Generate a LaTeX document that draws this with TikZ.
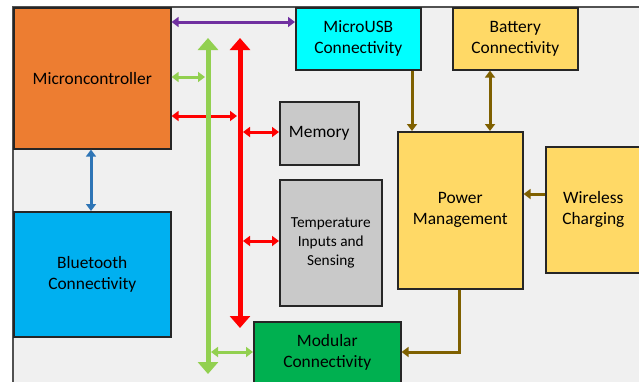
\documentclass[tikz,border=0pt]{standalone}
\usepackage{fontspec}
\setmainfont{Carlito}
\usetikzlibrary{arrows.meta}

\definecolor{mcuorange}{HTML}{ED7D31}
\definecolor{btblue}{HTML}{00B0F0}
\definecolor{usbcyan}{HTML}{00FFFF}
\definecolor{pwryellow}{HTML}{FFD966}
\definecolor{memgray}{HTML}{C9C9C9}
\definecolor{modgreen}{HTML}{00B050}
\definecolor{buslime}{HTML}{92D050}
\definecolor{busred}{HTML}{FF0000}
\definecolor{usbpurple}{HTML}{7030A0}
\definecolor{pwrbrown}{HTML}{7F6000}
\definecolor{btsteel}{HTML}{2E75B6}
\definecolor{panelfill}{HTML}{F0F0F0}
\definecolor{boxline}{HTML}{262626}

\begin{document}
\begin{tikzpicture}[x=1pt, y=-1pt, line join=miter]

	% ================= 1. styles =================
	\tikzset{
		blk/.style={draw=boxline, line width=1.6pt, anchor=north west, align=center,
			inner sep=0pt, font=\fontsize{17.4}{21}\selectfont},
		link/.style={line width=3pt,
			{Triangle[width=10pt,length=7pt]}-{Triangle[width=10pt,length=7pt]}},
		feed/.style={line width=3pt, -{Triangle[width=10pt,length=7pt]}},
		bus/.style={line width=5pt,
			{Triangle[width=20pt,length=12pt]}-{Triangle[width=20pt,length=12pt]}}
	}

	% ================= 2. panel =================
	\useasboundingbox (0,0) rectangle (639,381);
	\clip (0,0) rectangle (639,381);
	\draw[fill=panelfill, draw=boxline!80, line width=1.2pt] (13,7) rectangle (700,420);

	% ================= 3. blocks =================
	\node[blk, fill=mcuorange, minimum width=157pt, minimum height=141pt] (mcu) at (13,7) {Microncontroller};
	\node[blk, fill=btblue, minimum width=157pt, minimum height=125pt] (bt) at (13,211) {Bluetooth\\Connectivity};
	\node[blk, fill=usbcyan, minimum width=125pt, minimum height=62pt] (usb) at (295,7) {MicroUSB\\Connectivity};
	\node[blk, fill=pwryellow, minimum width=125pt, minimum height=62pt] (bat) at (452,7) {Battery\\Connectivity};
	\node[blk, fill=pwryellow, minimum width=125pt, minimum height=157pt] (pwr) at (397,131) {Power\\Management};
	\node[blk, fill=pwryellow, minimum width=95pt, minimum height=126pt] (wls) at (545,146) {Wireless\\Charging};
	\node[blk, fill=memgray, minimum width=79pt, minimum height=63pt] (mem) at (279,101) {Memory};
	\node[blk, fill=memgray, minimum width=102pt, minimum height=126pt,
		font=\fontsize{15.3}{19}\selectfont] (temp) at (279,179) {Temperature\\Inputs and\\Sensing};
	\node[blk, fill=modgreen, minimum width=147pt, minimum height=62pt] (mod) at (253,321) {Modular\\Connectivity};

	% ================= 4. bus ends =================
	\coordinate (gtop) at (208,38);
	\coordinate (gbot) at (208,374);
	\coordinate (rtop) at (240,38);
	\coordinate (rbot) at (240,328);

	% ================= 5. links =================
	\draw[link, usbpurple] (mcu.east |- 0,22) -- (usb.west |- 0,22);
	\draw[link, btsteel] (mcu.south -| 91,0) -- (bt.north -| 91,0);
	\draw[link, buslime] (mcu.east |- 0,77) -- (205,77);
	\draw[link, busred] (mcu.east |- 0,116) -- (237,116);
	\draw[link, busred] (243,132) -- (mem.west |- 0,132);
	\draw[link, busred] (243,241) -- (temp.west |- 0,241);
	\draw[link, buslime] (211,352) -- (mod.west |- 0,352);

	% buses on top
	\draw[bus, buslime] (gtop) -- (gbot);
	\draw[bus, busred] (rtop) -- (rbot);

	% ================= 6. power paths =================
	\draw[feed, pwrbrown] (usb.south -| 412,0) -- (pwr.north -| 412,0);
	\draw[link, pwrbrown] (bat.south -| 490,0) -- (pwr.north -| 490,0);
	\draw[feed, pwrbrown] (wls.west |- 0,194) -- (pwr.east |- 0,194);
	\draw[feed, pwrbrown] (pwr.south -| 459,0) -- (459,352) -- (mod.east |- 0,352);

\end{tikzpicture}
\end{document}
